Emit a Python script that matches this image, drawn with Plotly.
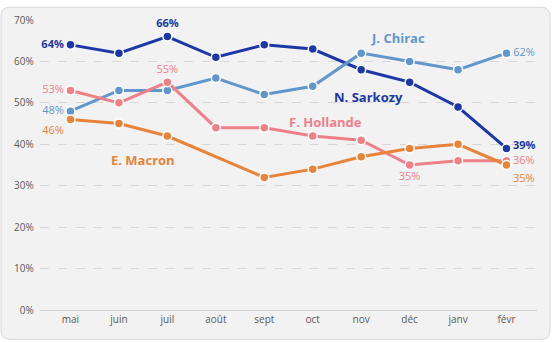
import plotly.graph_objects as go

months = ["mai", "juin", "juil", "août", "sept", "oct", "nov", "déc", "janv", "févr"]
sarkozy = [64, 62, 66, 61, 64, 63, 58, 55, 49, 39]
chirac = [48, 53, 53, 56, 52, 54, 62, 60, 58, 62]
hollande = [53, 50, 55, 44, 44, 42, 41, 35, 36, 36]
macron = [46, 45, 42, None, 32, 34, 37, 39, 40, 35]

W, H = 552, 342
ML, MR, MT, MB = 40, 15, 14, 32

series = [
    dict(name="N. Sarkozy", vals=sarkozy, color="#1c37a8", bold=True,
         labels={0: "middle left", 2: "top center"},
         side={9: 4},
         ann=(6.15, 0.513)),
    dict(name="J. Chirac", vals=chirac, color="#5f97cc", bold=False,
         labels={0: "middle left", 9: "middle right"}, side={},
         ann=(6.75, 0.657)),
    dict(name="F. Hollande", vals=hollande, color="#ef8088", bold=False,
         labels={0: "middle left", 2: "top center", 7: "bottom center"},
         side={9: 1},
         ann=(5.27, 0.454)),
    dict(name="E. Macron", vals=macron, color="#e8833a", bold=False,
         labels={0: "bottom left", 4: "bottom center"},
         side={9: -12},
         ann=(1.5, 0.362)),
]

fig = go.Figure()
for s in series:
    ys = [None if v is None else v / 100 for v in s["vals"]]
    texts, poss = [], []
    for i, v in enumerate(s["vals"]):
        if i in s["labels"] and v is not None:
            t = f"{v}%"
            texts.append(f"<b>{t}</b>" if s["bold"] else t)
            poss.append(s["labels"][i])
        else:
            texts.append("")
            poss.append("middle center")
    fig.add_trace(go.Scatter(
        x=months, y=ys, mode="lines+markers+text", connectgaps=True,
        line=dict(color=s["color"], width=3),
        marker=dict(color=s["color"], size=9, line=dict(color="white", width=1.5)),
        text=texts, textposition=poss,
        textfont=dict(color=s["color"], size=11, family="Open Sans"),
        cliponaxis=False, showlegend=False, hoverinfo="skip",
    ))
    for i, shift in s["side"].items():
        v = s["vals"][i]
        t = f"{v}%"
        fig.add_annotation(x=i, y=v / 100, text=f"<b>{t}</b>" if s["bold"] else t,
                           showarrow=False, xanchor="left", xshift=5, yshift=shift,
                           borderpad=0,
                           font=dict(color=s["color"], size=11, family="Open Sans"))
    fig.add_annotation(x=s["ann"][0], y=s["ann"][1], text=f"<b>{s['name']}</b>",
                       showarrow=False, xref="x", yref="y",
                       font=dict(color=s["color"], size=13, family="Open Sans"))

pw, ph = W - ML - MR, H - MT - MB
def px(x): return (x - ML) / pw
def py(y): return (H - MB - y) / ph
x0, x1, y0, y1, r = 1, 550, 1, 340, 9
path = (f"M {px(x0+r)},{py(y0)} L {px(x1-r)},{py(y0)} "
        f"Q {px(x1)},{py(y0)} {px(x1)},{py(y0+r)} L {px(x1)},{py(y1-r)} "
        f"Q {px(x1)},{py(y1)} {px(x1-r)},{py(y1)} L {px(x0+r)},{py(y1)} "
        f"Q {px(x0)},{py(y1)} {px(x0)},{py(y1-r)} L {px(x0)},{py(y0+r)} "
        f"Q {px(x0)},{py(y0)} {px(x0+r)},{py(y0)} Z")
fig.add_shape(type="path", path=path, xref="paper", yref="paper", layer="below",
              fillcolor="#f2f2f2", line=dict(color="#d9d9d9", width=1))

fig.update_layout(
    width=W, height=H, margin=dict(l=ML, r=MR, t=MT, b=MB),
    paper_bgcolor="white", plot_bgcolor="rgba(0,0,0,0)",
    font=dict(family="Open Sans", color="#595959", size=10),
)
fig.update_xaxes(showgrid=False, showline=True, linecolor="#d0d0d0", ticks="",
                 tickfont=dict(size=10, color="#595959"))
fig.update_yaxes(range=[0, 0.7], dtick=0.1, tickformat=".0%", showgrid=True,
                 gridcolor="#d6d6d6", griddash="dash", zeroline=False,
                 tickfont=dict(size=10, color="#595959"), ticks="",
                 ticksuffix="  ")
fig.write_html("out.html")
